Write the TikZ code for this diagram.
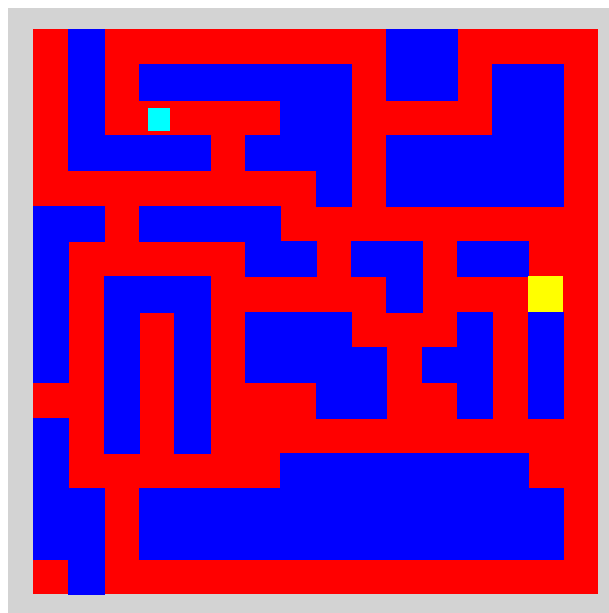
\documentclass[tikz,border=0pt]{standalone}
\usepackage{tikz}
\usepackage[x11names, svgnames, rgb]{xcolor}
\definecolor{panel}{HTML}{D3D3D3}

\begin{document}
\begin{tikzpicture}[
			x=1cm, y=-1cm,
			path/.style={fill=red},
			wall/.style={
					fill=blue,
					draw=blue,
					line width=0.2pt % hides seams between cells
				},
			start/.style={fill=cyan},
			goal/.style={fill=yellow}
		]
		% frame
		\useasboundingbox[fill=white] (-0.943, -0.830) rectangle (16.30, 16.53);
		\fill[panel] (-0.717, -0.603) rectangle (16.30, 16.53);

		% open cells
		\fill[path] (0, 0) rectangle (16, 16);

		% walls, row / columns
		\foreach \r/\cols in {
				0/{1,10,11},
				1/{1,3,4,5,6,7,8,10,11,13,14},
				2/{1,7,8,13,14},
				3/{1,2,3,4,6,7,8,10,11,12,13,14},
				4/{8,10,11,12,13,14},
				5/{0,1,3,4,5,6},
				6/{0,6,7,9,10,12,13},
				7/{0,2,3,4,10},
				8/{0,2,4,6,7,8,12,14},
				9/{0,2,4,6,7,8,9,11,12,14},
				10/{2,4,8,9,12,14},
				11/{0,2,4},
				12/{0,7,8,9,10,11,12,13},
				13/{0,1,3,4,...,14},
				14/{0,1,3,4,...,14},
				15/{1}} {
				\foreach \c in \cols {
						\path[wall] (\c, \r) rectangle ++(1, 1);
					}
			}

		% agent and target
		\fill[start] (3.24, 2.23) rectangle (3.88, 2.87);
		\fill[goal] (14, 7) rectangle ++(1, 1);
	\end{tikzpicture}
\end{document}
